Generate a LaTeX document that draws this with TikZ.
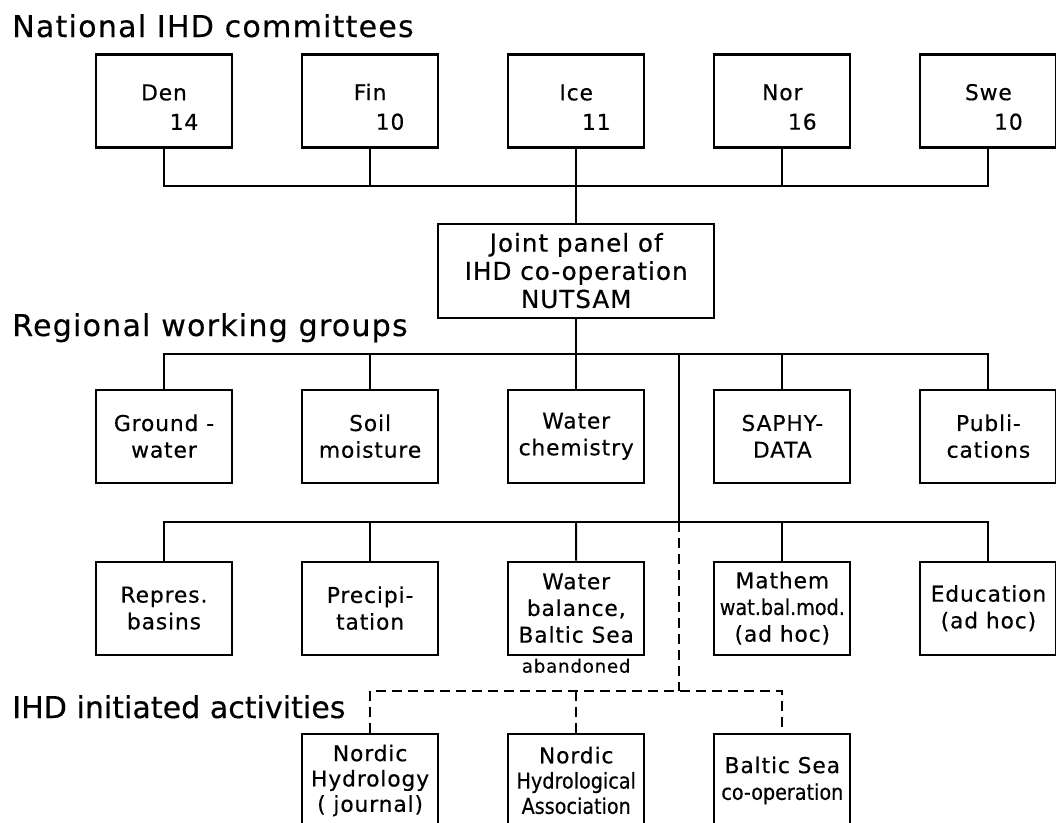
\documentclass[tikz,border=0pt]{standalone}
\usepackage{fontspec}
\setmainfont{DejaVu Sans}[LetterSpace=4,FakeBold=0.4]
\newfontfamily\tightfont{DejaVu Sans}[FakeStretch=0.88,FakeBold=0.4]
\usetikzlibrary{
  positioning,
  calc
}

\begin{document}
\begin{tikzpicture}[
    box/.style={
      draw=black,
      line width=1.5pt,
      fill=white,
      align=center,
      minimum width=3.4cm,
      minimum height=2.325cm,
      inner sep=1pt,
      font=\fontsize{15.5}{19}\selectfont
    },
    heading/.style={
      anchor=base west,
      inner sep=0pt,
      font=\fontsize{21.4}{24}\selectfont
    },
    link/.style={line width=1.4pt},
    dashlink/.style={line width=1.4pt, dash pattern=on 0.25cm off 0.15cm}
  ]
  \newcommand{\vSep}{1.85cm}
  \newcommand{\hSep}{1.7cm}
  \newcommand{\topgap}{\rule{0pt}{20pt}}
  \useasboundingbox (0,0) rectangle (26.4,-20.575);

  % National committees
  \node[heading] (natlabel) at (0.3,-0.925) {National IHD committees};
  \node[box] (den) at (4.1,-2.525) {\topgap Den\\[2pt]\hspace*{1cm}14};
  \node[box, right=\hSep of den] (fin) {\topgap Fin\\[2pt]\hspace*{1cm}10};
  \node[box, right=\hSep of fin] (ice) {\topgap Ice\\[2pt]\hspace*{1cm}11};
  \node[box, right=\hSep of ice] (nor) {\topgap Nor\\[2pt]\hspace*{1cm}16};
  \node[box, right=\hSep of nor] (swe) {\topgap Swe\\[2pt]\hspace*{1cm}10};

  % Joint panel
  \node[box, below=\vSep of ice, minimum width=6.9cm, minimum height=2.35cm,
    font=\fontsize{17.5}{20}\selectfont] (joint) {Joint panel of\\IHD co-operation\\NUTSAM};

  % Regional working groups
  \node[heading] (reglabel) at (0.3,-8.4) {Regional working groups};
  \node[box, below=1.75cm of joint] (chem) {Water\\chemistry};
  \node[box, left=\hSep of chem] (soil) {Soil\\moisture};
  \node[box, left=\hSep of soil] (ground) {Ground -\\water};
  \node[box, right=\hSep of chem] (saphy) {SAPHY-\\DATA};
  \node[box, right=\hSep of saphy] (publi) {Publi-\\cations};

  \node[box, below=1.92cm of chem] (balance) {Water\\balance,\\Baltic Sea};
  \node[box, left=\hSep of balance] (precip) {Precipi-\\tation};
  \node[box, left=\hSep of precip] (repres) {Repres.\\basins};
  \node[box, right=\hSep of balance] (mathem) {Mathem\\{\tightfont wat.bal.mod.}\\(ad hoc)};
  \node[box, right=\hSep of mathem] (educ) {Education\\(ad hoc)};
  \node[below=2pt of balance, inner sep=0pt, font=\fontsize{13}{15}\selectfont] (abandoned) {abandoned};

  % IHD initiated activities
  \node[heading, font=\fontsize{21.4}{24}\selectfont\addfontfeature{LetterSpace=0}] (actlabel) at (0.3,-17.95) {IHD initiated activities};
  \node[box, below=1.93cm of balance, font=\fontsize{15.5}{18}\selectfont] (assoc) {Nordic\\{\tightfont Hydrological}\\{\tightfont Association}};
  \node[box, left=\hSep of assoc, font=\fontsize{15.5}{18}\selectfont] (journal) {Nordic\\Hydrology\\( journal)};
  \node[box, right=\hSep of assoc] (baltic) {Baltic Sea\\{\tightfont co-operation}};

  % Connections
  \coordinate (bus1) at ($(ice.south)!.5!(joint.north)$);
  \coordinate (bus2) at ($(joint.south)!.5!(chem.north)$);
  \coordinate (bus3) at ($(chem.south)!.5!(balance.north)$);
  \coordinate (bus4) at ($(assoc.north)+(0,1.05)$);
  \coordinate (branch) at ($(bus2)!.5!(saphy.north |- bus2)$);

  \draw[link] (den.south) |- (bus1) -| (swe.south);
  \draw[link] (fin.south) -- (fin.south |- bus1);
  \draw[link] (nor.south) -- (nor.south |- bus1);
  \draw[link] (ice.south) -- (joint.north);

  \draw[link] (ground.north) |- (bus2) -| (publi.north);
  \draw[link] (soil.north) -- (soil.north |- bus2);
  \draw[link] (saphy.north) -- (saphy.north |- bus2);
  \draw[link] (joint.south) -- (chem.north);
  \draw[link] (branch) -- (branch |- bus3);

  \draw[link] (repres.north) |- (bus3) -| (educ.north);
  \draw[link] (precip.north) -- (precip.north |- bus3);
  \draw[link] (mathem.north) -- (mathem.north |- bus3);
  \draw[link] (balance.north) -- (bus3);

  \draw[dashlink] (branch |- bus3) -- (branch |- bus4);
  \draw[dashlink] (journal.north) |- (bus4) -| (baltic.north);
  \draw[dashlink] (assoc.north) -- (bus4);
\end{tikzpicture}
\end{document}
